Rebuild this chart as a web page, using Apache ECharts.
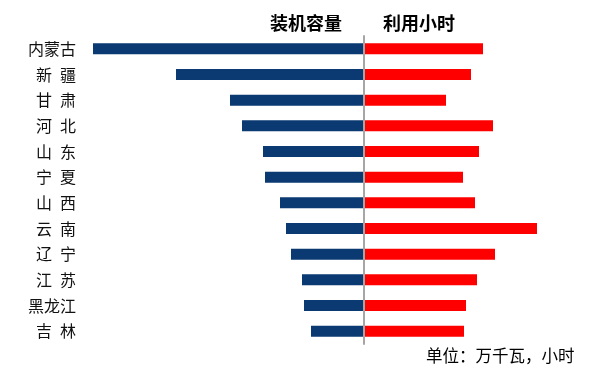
<!DOCTYPE html>
<html>
<head>
<meta charset="utf-8">
<script src="https://cdn.jsdelivr.net/npm/echarts@6/dist/echarts.min.js"></script>
<style>
html,body{margin:0;padding:0;background:#fff;}
#c{width:601px;height:370px;}
</style>
</head>
<body>
<div id="c"></div>
<script>
var categories = ['内蒙古', '新 疆', '甘 肃', '河 北', '山 东', '宁 夏', '山 西', '云 南', '辽 宁', '江 苏', '黑龙江', '吉 林'];
var capacity = [2710, 1880, 1340, 1220, 1010, 990, 840, 780, 730, 620, 600, 530];
var hours = [1785, 1605, 1230, 1935, 1725, 1485, 1665, 2595, 1965, 1695, 1530, 1500];
var seriesNames = ['装机容量', '利用小时'];
var unitNote = '单位：万千瓦，小时';

var font = '"Noto Sans CJK SC", sans-serif';
var chart = echarts.init(document.getElementById('c'), null, {renderer: 'canvas'});
chart.setOption({
  animation: false,
  backgroundColor: '#ffffff',
  title: [
    {text: seriesNames[0], left: 265, top: 9,
     textStyle: {fontFamily: font, fontSize: 18, fontWeight: 'bold', color: '#000'}},
    {text: seriesNames[1], left: 378, top: 9,
     textStyle: {fontFamily: font, fontSize: 18, fontWeight: 'bold', color: '#000'}},
    {text: unitNote, left: 421, top: 342,
     textStyle: {fontFamily: font, fontSize: 16.5, fontWeight: 'normal', color: '#000'}}
  ],
  grid: [
    {left: 88, right: 237, top: 36, bottom: 26, containLabel: false},
    {left: 364, right: 37, top: 36, bottom: 26, containLabel: false}
  ],
  xAxis: [
    {gridIndex: 0, type: 'value', inverse: true, min: 0, max: 2760, show: false},
    {gridIndex: 1, type: 'value', min: 0, max: 3000, show: false}
  ],
  yAxis: [
    {gridIndex: 0, type: 'category', data: categories, inverse: true,
     axisLine: {show: false}, axisTick: {show: false}, splitLine: {show: false},
     axisLabel: {margin: 12, fontFamily: font, fontSize: 16, color: '#111',
       formatter: function (v) { return v.replace(' ', '\u2002'); }}},
    {gridIndex: 1, type: 'category', data: categories, inverse: true, z: 5,
     axisLine: {show: true, lineStyle: {color: '#a6a6a6', width: 2}},
     axisTick: {show: false}, axisLabel: {show: false}, splitLine: {show: false}}
  ],
  series: [
    {name: seriesNames[0], type: 'bar', xAxisIndex: 0, yAxisIndex: 0, data: capacity,
     barWidth: 11, itemStyle: {color: '#0b3a72'}},
    {name: seriesNames[1], type: 'bar', xAxisIndex: 1, yAxisIndex: 1, data: hours,
     barWidth: 11, itemStyle: {color: '#ff0000'}}
  ]
});
</script>
</body>
</html>
